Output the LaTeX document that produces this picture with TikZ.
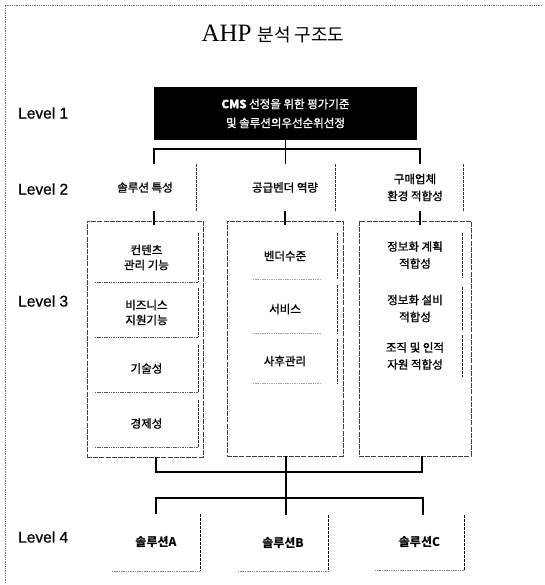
\documentclass[tikz,border=0pt]{standalone}
\usepackage{fontspec}
\setmainfont{Liberation Serif}
\newfontfamily\kr[FakeBold=1.2]{Noto Sans CJK KR}
\newfontfamily\krt{Noto Sans CJK KR}
\newfontfamily\lvfont[FakeBold=0.6]{Liberation Sans}
\begin{document}
\begin{tikzpicture}[x=1pt,y=-1pt,
  conn/.style={line width=1.5pt,black},
  frameline/.style={draw=black!55,line width=0.8pt,densely dotted},
  outerbox/.style={draw=black!75,line width=0.5pt,dash pattern=on 5pt off 1.2pt,inner sep=0pt},
  edgeR/.style={black!80,line width=0.6pt,dash pattern=on 3pt off 1pt},
  edgeB/.style={black!65,line width=0.5pt,dash pattern=on 1.5pt off 0.8pt},
  txt/.style={font=\kr\fontsize{11.5}{17}\selectfont,align=center,inner sep=0pt},
  txtc/.style={font=\kr\fontsize{11.5}{15}\selectfont,align=center,inner sep=0pt},
  sol/.style={font=\krt\bfseries\fontsize{12}{14}\selectfont,align=center,inner sep=0pt},
  lvl/.style={font=\lvfont\fontsize{15.5}{17}\selectfont,anchor=west,inner sep=0pt},
  blackbox/.style={fill=black,text=white,font=\kr\fontsize{11.5}{19}\selectfont,align=center,inner sep=0pt}
]
\useasboundingbox (0,0) rectangle (544,585);
% frame
\draw[frameline] (5,583) -- (5,5) -- (542,5);
% title
\node[inner sep=0pt] (T) at (273,34) {{\fontsize{25}{25}\selectfont AHP}\hspace{6pt}{\krt\fontsize{18}{18}\selectfont 분석 구조도}};
% level labels
\node[lvl] (LV1) at (18,113) {Level 1};
\node[lvl] (LV2) at (18,189) {Level 2};
\node[lvl] (LV3) at (18,301) {Level 3};
\node[lvl] (LV4) at (18,537) {Level 4};
% level 1
\node[blackbox,minimum width=263pt,minimum height=53pt] (L1) at (285.5,113.5) {\textbf{CMS} 선정을 위한 평가기준\\및 솔루션의우선순위선정};
% level 2
\node[txt,minimum width=102pt,minimum height=47pt] (S1) at (145,187.5) {솔루션 특성};
\node[txt,minimum width=100pt,minimum height=47pt] (S2) at (285,187.5) {공급벤더 역량};
\node[txt,minimum width=96pt,minimum height=47pt] (S3) at (415,187.5) {구매업체\\환경 적합성};
\draw[edgeR] (S1.north east) -- (S1.south east);
\draw[edgeR] (S2.north east) -- (S2.south east);
\draw[edgeR] (S3.north east) -- (S3.south east);
% level 3 outer boxes
\node[outerbox,minimum width=116pt,minimum height=236pt] (O1) at (145,339) {};
\node[outerbox,minimum width=116pt,minimum height=235pt] (O2) at (285,338.5) {};
\node[outerbox,minimum width=112pt,minimum height=235pt] (O3) at (415,338.5) {};
% column 1 inner
\node[txtc,minimum width=103pt,minimum height=49pt] (A1) at (146.5,257.5) {컨텐츠\\관리 기능};
\node[txtc,minimum width=103pt,minimum height=49pt] (A2) at (146.5,312.5) {비즈니스\\지원기능};
\node[txtc,minimum width=103pt,minimum height=47pt] (A3) at (146.5,368.5) {기술성};
\node[txtc,minimum width=103pt,minimum height=47pt] (A4) at (146.5,423.5) {경제성};
\foreach \n in {A1,A2,A3,A4}{
  \draw[edgeR] (\n.north east) -- (\n.south east);
  \draw[edgeB] (\n.south west) -- (\n.south east);
}
% column 2 inner
\node[txt,minimum width=104pt,minimum height=46pt] (B1) at (285,256) {벤더수준};
\node[txt,minimum width=104pt,minimum height=48pt] (B2) at (285,309) {서비스};
\node[txt,minimum width=104pt,minimum height=44pt] (B3) at (285,361) {사후관리};
\foreach \n in {B1,B2,B3}{
  \draw[edgeR] (\n.north east) -- (\n.south east);
  \draw[edgeB,black!35] ([xshift=20pt]\n.south west) -- ([xshift=-16pt]\n.south east);
}
% column 3 inner
\node[txt,minimum width=94pt,minimum height=44pt] (C1) at (415,255) {정보화 계획\\적합성};
\node[txt,minimum width=94pt,minimum height=43pt] (C2) at (415,308.5) {정보화 설비\\적합성};
\node[txt,minimum width=94pt,minimum height=42pt] (C3) at (415,356) {조직 및 인적\\자원 적합성};
\foreach \n in {C1,C2,C3}{
  \draw[edgeR] (\n.north east) -- (\n.south east);
}
% level 4
\node[sol,minimum width=88pt,minimum height=57pt] (P1) at (156,542.5) {솔루션A};
\node[sol,minimum width=90pt,minimum height=56pt] (P2) at (283,543) {솔루션B};
\node[sol,minimum width=89pt,minimum height=55pt] (P3) at (419.5,542.5) {솔루션C};
\foreach \n in {P1,P2,P3}{
  \draw[edgeR,black,line width=0.8pt] (\n.north east) -- (\n.south east);
  \draw[edgeB,black!45] (\n.south west) -- (\n.south east);
}
% connector coordinates
\coordinate (j1) at (154,149);
\coordinate (j3) at (420,149);
\coordinate (k1) at (156,472);
\coordinate (k2) at (286,472);
\coordinate (k3) at (422,472);
\coordinate (l1) at (156,498);
\coordinate (l3) at (423,498);
% level 1 -> level 2
\draw[conn] (L1.south) -- (L1.south |- S2.north);
\draw[conn] (S1.north -| j1) |- (j3) -- (S3.north -| j3);
% level 2 -> level 3
\draw[conn] (S1.south -| j1) -- ([yshift=-4pt]O1.north -| j1);
\draw[conn] (S2.south) -- ([yshift=-4pt]O2.north);
\draw[conn] (S3.south -| j3) -- ([yshift=-4pt]O3.north -| j3);
% level 3 -> level 4
\draw[conn] (O1.south -| k1) |- (k3) -- (O3.south -| k3);
\draw[conn] (O2.south -| k2) -- (P2.north -| k2);
\draw[conn] (P1.north -| l1) |- (l3) -- (P3.north -| l3);
\end{tikzpicture}
\end{document}
